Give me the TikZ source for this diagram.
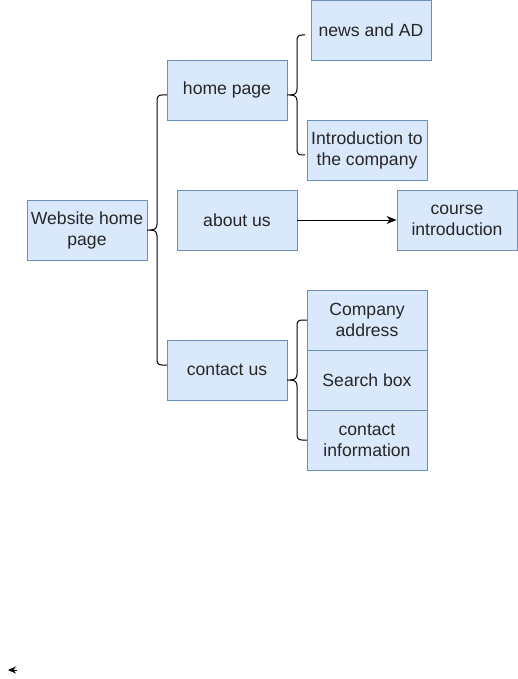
\documentclass[tikz,border=0pt]{standalone}
\usepackage{fontspec}
\setmainfont{Liberation Sans}
\usetikzlibrary{arrows.meta}
\tikzset{
  box/.style={draw=boxline, fill=boxfill, line width=0.9pt, minimum width=120pt, minimum height=60pt, inner sep=1pt, align=center, font=\fontsize{17.6}{21}\selectfont, text=black!85},
  brace/.style={draw=black, line width=1pt}
}
\definecolor{boxfill}{HTML}{DAE8FC}
\definecolor{boxline}{HTML}{6C8EBF}
% #1 tip x, #2 vertical x, #3 end x, #4 top y, #5 mid y, #6 bottom y
\newcommand\mybrace[6]{%
  \draw[brace] (#1,#5) -- ({#1+3},#5) .. controls ({#2-2},#5) and (#2,{#5-2}) .. (#2,{#5-6})
    -- (#2,{#4+6}) .. controls (#2,{#4+2}) and ({#2+1},#4) .. ({#2+5},#4) -- (#3,#4);
  \draw[brace] ({#1+3},#5) .. controls ({#2-2},#5) and (#2,{#5+2}) .. (#2,{#5+6})
    -- (#2,{#6-6}) .. controls (#2,{#6-2}) and ({#2+1},#6) .. ({#2+5},#6) -- (#3,#6);
}
\begin{document}
\begin{tikzpicture}[x=1pt,y=-1pt]
\useasboundingbox (0,0) rectangle (518,679);
\node[box] (web) at (87,230) {Website home\\page};
\node[box] (home) at (227,90) {home page};
\node[box] (news) at (371,30) {news and AD};
\node[box] (intro) at (367,150) {Introduction to\\the company};
\node[box] (about) at (237,220) {about us};
\node[box] (course) at (457,220) {course\\introduction};
\node[box] (contact) at (227,370) {contact us};
\node[box] (addr) at (367,320) {Company\\address};
\node[box] (search) at (367,380) {Search box};
\node[box] (info) at (367,440) {contact\\information};

\mybrace{147}{157}{167}{95}{230}{365}
\mybrace{287}{297}{305}{35}{95}{155}
\mybrace{287}{297}{307}{320}{380}{440}

\draw[line width=1pt, -{Stealth[length=10pt,width=8pt]}] (about.east) -- (course.west);

\coordinate (s1) at (17,670);
\coordinate (s2) at (8,670);
\draw[line width=1pt, -{Stealth[length=8pt,width=7pt]}] (s1) -- (s2);
\end{tikzpicture}
\end{document}
